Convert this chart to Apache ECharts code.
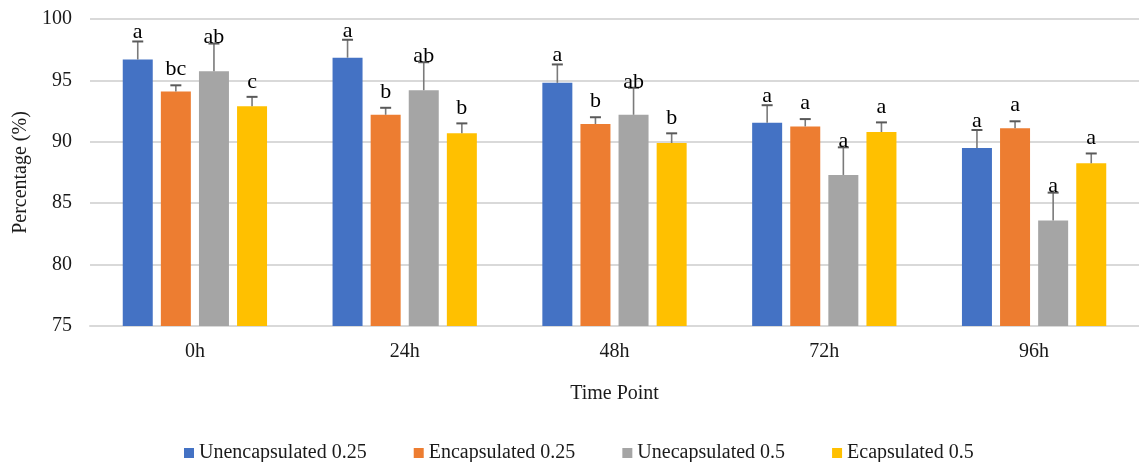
<!DOCTYPE html>
<html>
<head>
<meta charset="utf-8">
<script src="https://cdn.jsdelivr.net/npm/echarts@6/dist/echarts.min.js"></script>
<style>
  html, body { margin: 0; padding: 0; background: #fff; }
  #chart { width: 1139px; height: 462px; }
</style>
</head>
<body>
<div id="chart"></div>
<script>
const categories = ['0h', '24h', '48h', '72h', '96h']
const seriesNames = ['Unencapsulated 0.25', 'Encapsulated 0.25', 'Unecapsulated 0.5', 'Ecapsulated 0.5']

const unenc025 = [96.7, 96.85, 94.8, 91.55, 89.5]
const enc025 = [94.1, 92.2, 91.45, 91.25, 91.1]
const unenc05 = [95.75, 94.2, 92.2, 87.3, 83.6]
const enc05 = [92.9, 90.7, 89.9, 90.8, 88.25]

const unenc025Err = [1.47, 1.46, 1.5, 1.43, 1.46]
const enc025Err = [0.5, 0.57, 0.55, 0.6, 0.57]
const unenc05Err = [2.25, 2.28, 2.2, 2.25, 2.26]
const enc05Err = [0.76, 0.8, 0.79, 0.78, 0.8]

const unenc025Letters = ['a', 'a', 'a', 'a', 'a']
const enc025Letters = ['bc', 'b', 'b', 'a', 'a']
const unenc05Letters = ['ab', 'ab', 'ab', 'a', 'a']
const enc05Letters = ['c', 'b', 'b', 'a', 'a']

const yTicks = [75, 80, 85, 90, 95, 100]

const values = [unenc025, enc025, unenc05, enc05]
const errors = [unenc025Err, enc025Err, unenc05Err, enc05Err]
const letters = [unenc025Letters, enc025Letters, unenc05Letters, enc05Letters]

const COLORS = ['#4472C4', '#ED7D31', '#A5A5A5', '#FFC000']
const FONT = '"Liberation Serif", "Times New Roman", serif'
const TEXT = '#1a1a1a'
const BAR_WIDTH = 30
const BAR_GAP = 0.27
// how far each letter sits above its error cap (px)
const LABEL_LIFT = [2, 9, -1, 8]

const chart = echarts.init(document.getElementById('chart'))

const barSeries = seriesNames.map((name, i) => ({
  name,
  type: 'bar',
  barWidth: BAR_WIDTH,
  barGap: (BAR_GAP * 100) + '%',
  itemStyle: { color: COLORS[i] },
  data: values[i],
  z: 2,
}))

const errSeries = seriesNames.map((name, i) => ({
  name: 'err-' + i,
  type: 'custom',
  clip: false,
  z: 5,
  data: categories.map((c, ci) => [ci, values[i][ci], errors[i][ci]]),
  renderItem: (params, api) => {
    const ci = api.value(0)
    const v = api.value(1)
    const e = api.value(2)
    const base = api.coord([ci, v])
    const top = api.coord([ci, v + e])
    const pitch = BAR_WIDTH * (1 + BAR_GAP)
    const x = base[0] + (i - 1.5) * pitch
    return {
      type: 'group',
      children: [
        {
          type: 'line',
          shape: { x1: x, y1: base[1], x2: x, y2: top[1] },
          style: { stroke: '#7a7a7a', lineWidth: 1.6 },
        },
        {
          type: 'line',
          shape: { x1: x - 5.5, y1: top[1], x2: x + 5.5, y2: top[1] },
          style: { stroke: '#595959', lineWidth: 2 },
        },
        {
          type: 'text',
          style: {
            text: letters[i][ci],
            x,
            y: top[1] - LABEL_LIFT[i] + 4,
            align: 'center',
            verticalAlign: 'bottom',
            font: '22px ' + FONT,
            fill: '#000',
          },
        },
      ],
    }
  },
}))

const option = {
  animation: false,
  textStyle: { fontFamily: FONT },
  legend: {
    data: seriesNames,
    left: 179,
    top: 438,
    icon: 'rect',
    itemWidth: 10,
    itemHeight: 10,
    itemGap: 47,
    textStyle: { fontFamily: FONT, fontSize: 20, color: TEXT },
  },
  grid: {
    left: 90,
    top: 19,
    width: 1056,
    height: 307,
  },
  xAxis: {
    type: 'category',
    data: categories,
    name: 'Time Point',
    nameLocation: 'middle',
    nameGap: 58,
    nameTextStyle: { fontFamily: FONT, fontSize: 20, color: TEXT },
    axisLabel: { fontFamily: FONT, fontSize: 20, color: TEXT, margin: 16 },
    axisLine: { lineStyle: { color: '#d9d9d9', width: 2 } },
    axisTick: { show: false },
  },
  yAxis: {
    type: 'value',
    min: yTicks[0],
    max: yTicks[yTicks.length - 1],
    interval: 5,
    name: 'Percentage (%)',
    nameLocation: 'middle',
    nameGap: 57,
    nameTextStyle: { fontFamily: FONT, fontSize: 20, color: TEXT },
    axisLabel: { fontFamily: FONT, fontSize: 20, color: TEXT, margin: 18 },
    axisLine: { show: false },
    axisTick: { show: false },
    splitLine: { lineStyle: { color: '#d9d9d9', width: 2 } },
  },
  series: [...barSeries, ...errSeries],
}

chart.setOption(option)
</script>
</body>
</html>
